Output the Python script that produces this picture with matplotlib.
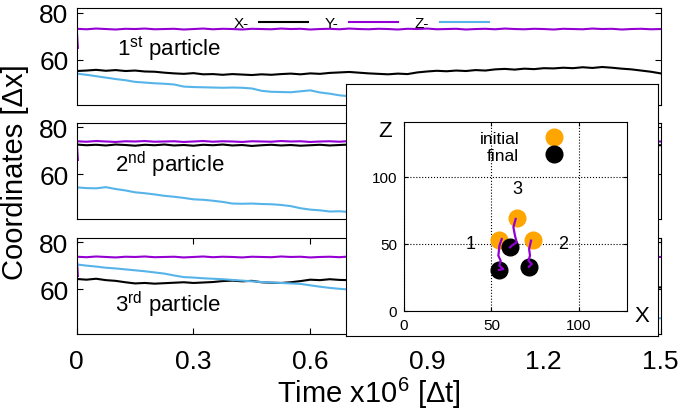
import numpy as np
import matplotlib.pyplot as plt

plt.rcParams['font.family'] = ['Liberation Sans', 'DejaVu Sans']
plt.rcParams['mathtext.fontset'] = 'custom'
plt.rcParams['mathtext.rm'] = 'Liberation Sans'
plt.rcParams['mathtext.it'] = 'Liberation Sans:italic'

# sample times (x10^6 dt)
time = np.linspace(0, 1.5, 61)

# 1st particle
x1 = [55.2, 55.4, 55.7, 55.3, 55.6, 55.2, 55.4, 55.0, 54.9, 54.5,
      54.2, 54.0, 54.3, 53.8, 53.9, 53.6, 53.9, 53.7, 53.5, 53.8,
      53.6, 53.9, 54.1, 53.8, 54.2, 54.0, 54.4, 54.6, 54.8, 54.5,
      54.2, 54.0, 53.8, 54.1, 53.9, 54.6, 55.0, 55.3, 55.1, 55.4,
      55.2, 55.6, 55.4, 55.9, 56.1, 55.8, 56.2, 56.0, 56.4, 56.3,
      56.6, 56.4, 56.8, 56.5, 56.9, 56.6, 56.2, 55.9, 55.4, 54.9,
      54.2]
y1_start = 65.0
y1 = [73.1, 72.9, 73.2, 73.0, 72.8, 73.1, 73.0, 73.2, 72.9, 73.0,
      73.1, 72.8, 73.0, 73.2, 72.9, 73.1, 73.0, 72.8, 73.1, 73.0,
      72.9, 73.2, 73.0, 73.1, 72.8, 73.0, 73.1, 72.9, 73.2, 73.0,
      72.9, 73.1, 73.0, 72.8, 73.1, 73.0, 73.2, 72.9, 73.0, 73.1,
      72.8, 73.0, 73.1, 72.9, 73.2, 73.0, 72.9, 73.1, 73.0, 72.8,
      73.1, 73.0, 72.9, 73.2, 73.0, 73.1, 72.8, 73.0, 73.1, 72.9,
      73.0]
z1 = [54.1, 53.6, 53.0, 52.4, 51.8, 51.3, 50.6, 50.3, 50.0, 49.8,
      49.5, 48.6, 48.4, 48.3, 48.2, 48.1, 48.2, 48.1, 47.8, 46.8,
      46.4, 46.3, 46.2, 46.6, 47.0, 46.1, 45.6, 44.9, 44.5, 44.1,
      43.7, 43.2, 42.8, 42.4, 41.9, 41.5, 41.1, 40.6, 40.2, 39.8,
      39.3, 38.9, 38.5, 38.0, 37.6, 37.2, 36.7, 36.3, 35.9, 35.4,
      35.0, 34.6, 34.1, 33.7, 33.3, 32.8, 32.4, 32.0, 31.5, 31.1,
      30.6]

# 2nd particle
x2 = [72.6, 72.3, 72.5, 72.2, 72.6, 72.4, 72.1, 72.5, 72.3, 72.6,
      72.2, 72.4, 72.1, 72.5, 72.3, 72.6, 72.2, 72.4, 72.0, 72.3,
      72.5, 72.2, 72.4, 72.1, 72.3, 72.5, 72.2, 72.4, 72.6, 72.3,
      72.1, 72.4, 72.2, 72.5, 72.3, 72.1, 72.4, 72.6, 72.2, 72.3,
      72.5, 72.2, 72.4, 72.1, 72.3, 72.5, 72.2, 72.4, 72.0, 72.3,
      72.2, 72.5, 72.3, 72.1, 72.4, 72.2, 72.5, 72.3, 72.1, 72.4,
      72.3]
y2_start = 66.0
y2 = [74.0, 73.8, 74.1, 73.9, 73.7, 74.0, 73.9, 74.1, 73.8, 73.9,
      74.0, 73.7, 73.9, 74.1, 73.8, 74.0, 73.9, 73.7, 74.0, 73.9,
      73.8, 74.1, 73.9, 74.0, 73.7, 73.9, 74.0, 73.8, 74.1, 73.9,
      73.8, 74.0, 73.9, 73.7, 74.0, 73.9, 74.1, 73.8, 73.9, 74.0,
      73.7, 73.9, 74.0, 73.8, 74.1, 73.9, 73.8, 74.0, 73.9, 73.7,
      74.0, 73.9, 73.8, 74.1, 73.9, 74.0, 73.7, 73.9, 74.0, 73.8,
      73.9]
z2 = [54.3, 54.0, 53.9, 54.4, 53.6, 53.0, 52.2, 51.8, 51.3, 50.7,
      50.3, 49.8, 49.2, 49.0, 48.6, 48.1, 47.4, 47.3, 47.4, 47.2,
      47.1, 46.8, 46.3, 45.4, 44.8, 44.5, 44.0, 44.1, 43.8, 43.5,
      43.1, 42.8, 42.4, 42.1, 41.7, 41.4, 41.0, 40.7, 40.3, 40.0,
      39.6, 39.3, 38.9, 38.6, 38.2, 37.9, 37.5, 37.2, 36.8, 36.5,
      36.1, 35.8, 35.4, 35.1, 34.7, 34.4, 34.0, 33.7, 33.5, 33.2,
      33.0]

# 3rd particle
x3 = [64.3, 64.0, 64.4, 63.8, 63.5, 62.9, 62.4, 62.6, 62.3, 62.5,
      62.7, 62.9, 62.6, 62.8, 63.0, 63.4, 63.6, 63.3, 63.5, 62.9,
      62.7, 62.6, 62.9, 63.4, 64.0, 63.8, 64.2, 63.9, 63.8, 63.6,
      63.4, 63.2, 63.0, 62.9, 62.7, 62.5, 62.4, 62.2, 62.1, 61.9,
      61.8, 61.7, 61.5, 61.4, 61.3, 61.2, 61.1, 61.0, 60.9, 60.9,
      60.8, 60.8, 60.7, 60.8, 60.7, 60.6, 60.7, 60.8, 60.7, 60.6,
      60.7]
y3_start = 65.5
y3 = [73.8, 73.6, 73.9, 73.7, 73.5, 73.8, 73.7, 73.9, 73.6, 73.7,
      73.8, 73.5, 73.7, 73.9, 73.6, 73.8, 73.7, 73.5, 73.8, 73.7,
      73.6, 73.9, 73.7, 73.8, 73.5, 73.7, 73.8, 73.6, 73.9, 73.7,
      73.6, 73.8, 73.7, 73.5, 73.8, 73.7, 73.9, 73.6, 73.7, 73.8,
      73.5, 73.7, 73.8, 73.6, 73.9, 73.7, 73.6, 73.8, 73.7, 73.5,
      73.8, 73.7, 73.6, 73.9, 73.7, 73.8, 73.5, 73.7, 73.8, 73.6,
      73.7]
z3 = [70.5, 70.0, 69.6, 69.1, 68.8, 68.4, 68.0, 67.6, 67.1, 66.6,
      65.8, 65.1, 64.9, 64.6, 64.4, 64.2, 63.9, 63.6, 63.3, 63.0,
      62.8, 62.6, 62.4, 62.2, 61.6, 61.0, 60.5, 60.1, 59.8, 59.4,
      59.0, 58.6, 58.2, 57.8, 57.5, 57.1, 56.7, 56.3, 55.9, 55.5,
      55.1, 54.8, 54.4, 54.0, 53.6, 53.2, 52.8, 52.5, 52.1, 51.7,
      51.3, 50.9, 50.5, 50.2, 49.8, 49.4, 49.0, 48.6, 48.3, 47.9,
      47.5]

panel_names = ['1$^{\\rm st}$ particle', '2$^{\\rm nd}$ particle', '3$^{\\rm rd}$ particle']
name_pos = [(0.103, 62.1), (0.098, 61.2), (0.098, 50.7)]
time_ticks = [0, 0.3, 0.6, 0.9, 1.2, 1.5]
time_labels = ['0', '0.3', '0.6', '0.9', '1.2', '1.5']

# inset: X-Z positions (particles 1, 2, 3)
init_x = [54.5, 73.7, 64.5]
init_z = [53.2, 53.2, 69.4]
final_x = [54.4, 71.5, 60.7]
final_z = [30.6, 33.0, 47.5]
path1_x = [55.9, 54.6, 54.0, 55.3, 54.6, 56.8, 54.4]
path1_z = [53.7, 48.7, 41.3, 37.5, 33.8, 31.3, 30.6]
path2_x = [72.7, 71.6, 72.1, 71.2, 73.1, 71.5]
path2_z = [52.5, 46.3, 41.3, 37.5, 35.1, 33.0]
path3_x = [63.9, 62.6, 63.5, 64.5, 61.6, 60.7]
path3_z = [68.7, 62.5, 56.2, 51.3, 48.7, 47.5]
id_labels = ['1', '2', '3']
id_pos = [(38, 50), (91, 50), (65, 91.5)]

purple = '#9400d3'
skyblue = '#56b4e9'
orange = '#ffa500'

fig = plt.figure(figsize=(6.85, 4.14), dpi=100)

boxes = [[0.112, 0.744, 0.8523, 0.2336],
         [0.112, 0.4686, 0.8523, 0.2319],
         [0.112, 0.1908, 0.8523, 0.2319]]
series = [(x1, y1_start, y1, z1), (x2, y2_start, y2, z2), (x3, y3_start, y3, z3)]

axes = []
for i, (box, (xs, ys0, ys, zs)) in enumerate(zip(boxes, series)):
    ax = fig.add_axes(box)
    lx, = ax.plot(time, xs, color='black', lw=1.5)
    ly, = ax.plot(np.r_[0.003, time], np.r_[ys0, ys], color=purple, lw=1.5)
    lz, = ax.plot(time, zs, color=skyblue, lw=1.5)
    ax.set_xlim(0, 1.5)
    ax.set_ylim(40.8, 81.8)
    ax.set_yticks([60, 80])
    ax.tick_params(axis='y', direction='in', right=True, labelsize=19, length=4, pad=6)
    ax.text(name_pos[i][0], name_pos[i][1], panel_names[i], fontsize=16, va='baseline')
    if i < 2:
        ax.tick_params(axis='x', bottom=False, labelbottom=False)
    else:
        ax.set_xticks(time_ticks)
        ax.set_xticklabels(time_labels)
        ax.tick_params(axis='x', direction='in', top=True, labelsize=19, length=4, pad=11)
        ax.set_xlabel('Time x10$^6$ [Δt]', fontsize=21, labelpad=1)
    if i == 0:
        ax.legend([lx, ly, lz], ['X-', 'Y-', 'Z-'], ncol=3, loc='center left',
                  bbox_to_anchor=(0.268, 0.848), frameon=False, fontsize=11,
                  handlelength=3.2, handletextpad=0.7, columnspacing=1.1,
                  borderpad=0, borderaxespad=0, markerfirst=False)
    axes.append(ax)

fig.text(0.022, 0.5845, 'Coordinates [Δx]', rotation=90, va='center', ha='center', fontsize=21)

# inset frame
frame = fig.add_axes([0.5051, 0.186, 0.4555, 0.6087])
frame.set_xticks([])
frame.set_yticks([])
frame.set_zorder(5)

ins = fig.add_axes([0.5898, 0.2464, 0.3255, 0.4565])
ins.set_zorder(6)
ins.plot(init_x, init_z, 'o', color=orange, ms=12, label='initial')
ins.plot(final_x, final_z, 'o', color='black', ms=12, label='final')
for px, pz in [(path1_x, path1_z), (path2_x, path2_z), (path3_x, path3_z)]:
    ins.plot(px, pz, color=purple, lw=1.6)
for lab, (tx, tz) in zip(id_labels, id_pos):
    ins.text(tx, tz, lab, fontsize=13, ha='center', va='center')
ins.set_xlim(0, 127.6)
ins.set_ylim(0, 141)
ins.set_xticks([0, 50, 100])
ins.set_yticks([0, 50, 100])
ins.grid(True, color='black', ls=':', lw=0.8)
ins.tick_params(direction='in', top=True, right=True, labelsize=11, length=3, pad=5)
ins.legend(loc='center right', bbox_to_anchor=(0.711, 0.868), markerfirst=False,
           frameon=False, fontsize=12.5, handlelength=1.0, handletextpad=1.5,
           labelspacing=0.1, borderpad=0, borderaxespad=0)
ins.text(1.066, -0.026, 'X', transform=ins.transAxes, ha='center', va='center', fontsize=16)
ins.text(-0.085, 0.954, 'Z', transform=ins.transAxes, ha='center', va='center', fontsize=16)

fig.savefig('out.png', dpi=100)
